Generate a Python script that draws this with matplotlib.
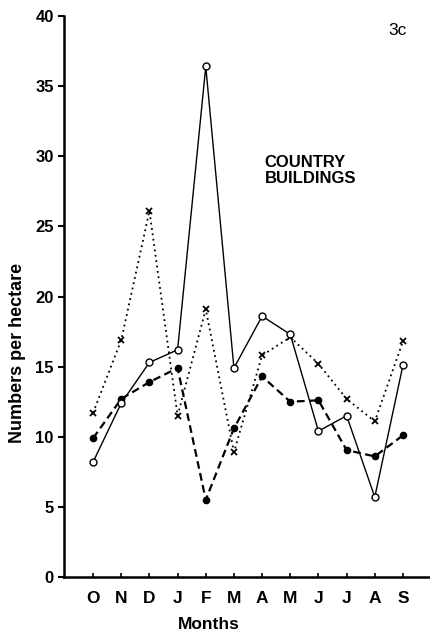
import matplotlib.pyplot as plt

plt.rcParams['font.family'] = ['Liberation Sans', 'DejaVu Sans']

months = ["O", "N", "D", "J", "F", "M", "A", "M", "J", "J", "A", "S"]
open_circles = [8.2, 12.4, 15.3, 16.2, 36.4, 14.9, 18.6, 17.3, 10.4, 11.5, 5.7, 15.1]
filled_circles = [9.9, 12.7, 13.9, 14.9, 5.5, 10.6, 14.3, 12.5, 12.6, 9.05, 8.6, 10.1]
crosses = [11.7, 16.9, 26.1, 11.5, 19.1, 8.9, 15.8, 17.1, 15.2, 12.7, 11.1, 16.8]

x = list(range(len(months)))

fig = plt.figure(figsize=(4.3, 6.35), dpi=100)
ax = fig.add_axes([0.149, 0.0913, 0.851, 0.8835])

ax.plot(x, crosses, color="black", linestyle=(0, (1, 2)), linewidth=1.3,
        marker="x", markersize=4.5, markeredgewidth=1.3, zorder=2)
ax.plot(x, filled_circles, color="black", linestyle=(0, (3.5, 2)), linewidth=1.6,
        marker="o", markersize=4.5, zorder=3)
ax.plot(x, open_circles, color="black", linestyle="-", linewidth=1.0,
        marker="o", markersize=5, markerfacecolor="white", markeredgewidth=1.0, zorder=4)

ax.set_xlim(-1.03, 11.96)
ax.set_ylim(0, 40)
ax.set_xticks(x)
ax.set_xticklabels(months, fontsize=12.5, fontweight="bold")
ax.set_yticks(range(0, 41, 5))
ax.tick_params(axis="y", direction="out", length=4, width=1.5, labelsize=12)
ax.tick_params(axis="x", direction="in", length=3, width=1.2, pad=10)
for lbl in ax.get_yticklabels():
    lbl.set_fontweight("bold")

for side in ["top", "right"]:
    ax.spines[side].set_visible(False)
for side in ["left", "bottom"]:
    ax.spines[side].set_linewidth(1.8)

ax.set_ylabel("Numbers per hectare", fontsize=13, fontweight="bold")
ax.yaxis.set_label_coords(-0.104, 0.40)
ax.set_xlabel("Months", fontsize=12.5, fontweight="bold")
ax.xaxis.set_label_coords(0.396, -0.072)

ax.text(0.91, 0.975, "3c", transform=ax.transAxes, fontsize=12.5, ha="center", va="center")
ax.text(0.548, 0.725, "COUNTRY\nBUILDINGS", transform=ax.transAxes, fontsize=12,
        fontweight="bold", ha="left", va="center", linespacing=1.1)

fig.savefig("out.png", dpi=100)
